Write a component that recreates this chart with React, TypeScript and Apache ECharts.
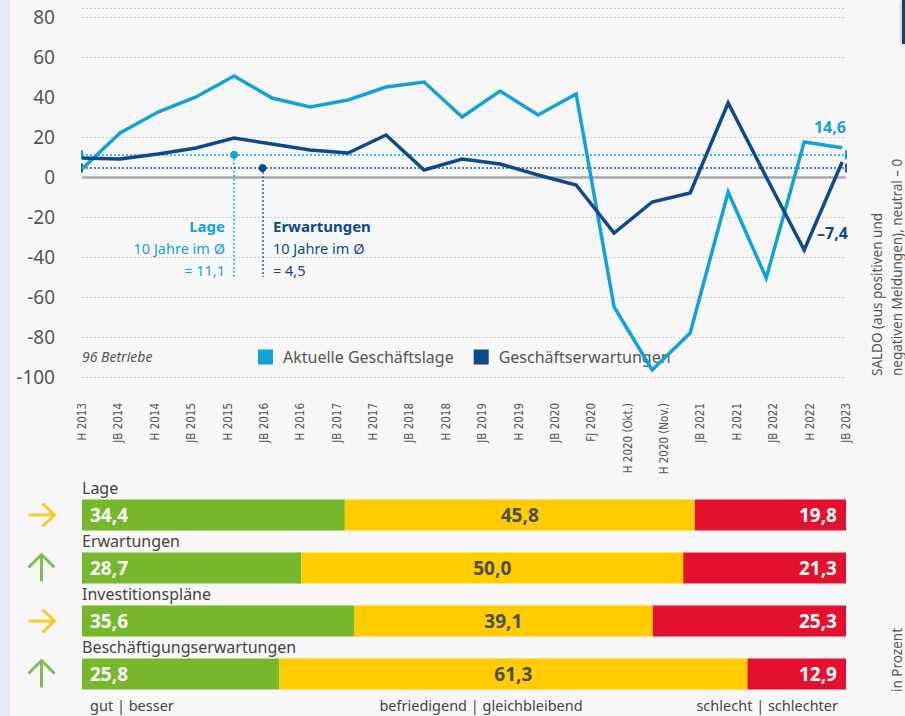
import React, { useEffect, useRef } from 'react';
import * as echarts from 'echarts';

// ---- data ----
const xLabels = ['H 2013', 'JB 2014', 'H 2014', 'JB 2015', 'H 2015', 'JB 2016', 'H 2016', 'JB 2017', 'H 2017', 'JB 2018', 'H 2018', 'JB 2019', 'H 2019', 'JB 2020', 'FJ 2020', 'H 2020 (Okt.)', 'H 2020 (Nov.)', 'JB 2021', 'H 2021', 'JB 2022', 'H 2022', 'JB 2023'];
const lageValues = [4, 22, 32.5, 40, 50.5, 39.5, 35, 38.5, 45, 47.5, 30, 43, 31, 41.5, -65, -96.5, -78, -7.5, -50.5, 17.5, 14.6];
const erwValues = [9.5, 9, 11.5, 14.5, 19.5, 16.5, 13.5, 12, 21, 3.5, 9, 6.5, 1, -4, -28, -12.5, -8, 37, 0, -36.5, 7.5];
const lageAvg = 11.1;
const erwAvg = 4.5;
const seriesNames = ['Aktuelle Geschäftslage', 'Geschäftserwartungen'];

const categories = ['Lage', 'Erwartungen', 'Investitionspläne', 'Beschäftigungserwartungen'];
const gutValues = [34.4, 28.7, 35.6, 25.8];
const mittelValues = [45.8, 50.0, 39.1, 61.3];
const schlechtValues = [19.8, 21.3, 25.3, 12.9];
const trendKinds = ['flat', 'up', 'flat', 'up'];
const footerLabels = ['gut | besser', 'befriedigend | gleichbleibend', 'schlecht | schlechter'];

const LIGHT = '#12a2da';
const DARK = '#0d4a8b';
const DARK_DOT = '#2e5a97';
const GREEN = '#77b72b';
const YELLOW = '#ffcc00';
const RED = '#e3102e';
const ARROW_FLAT = '#f7c200';
const ARROW_UP = '#62ab2c';
const F = "'Noto Sans', 'Open Sans', sans-serif";
const NARROW = "'Liberation Sans Narrow', 'DejaVu Sans Condensed', 'Noto Sans', sans-serif";

const fmt = (v: number) => v.toFixed(1).replace('.', ',');

const ARROW_RIGHT = 'path://M0,12 L26,12 M14,0 L26,12 L14,24';
const ARROW_UP_PATH = 'path://M13,27 L13,0 M0,13 L13,0 L26,13';

export default function App() {
  const ref = useRef<HTMLDivElement>(null);
  useEffect(() => {
    if (!ref.current) return;
    const chart = echarts.init(ref.current, undefined, { renderer: 'svg' });
    const dotted = (color: string) => ({ type: [2, 2], color, width: 1.5 });
    const endTicks = (avg: number, color: string) => [
      { coord: [0, avg], symbol: 'rect', symbolSize: [2, 9], itemStyle: { color } },
      { coord: [20.1, avg], symbol: 'rect', symbolSize: [2, 9], itemStyle: { color } },
    ];
    const splitColors = ['#c9c9c9', '#c9c9c9', '#c9c9c9', '#c9c9c9', '#c9c9c9', 'rgba(0,0,0,0)', '#c9c9c9', 'rgba(0,0,0,0)', '#c9c9c9', '#c9c9c9', '#c9c9c9'];
    const arrowX = -5.3; // left of the bars, on the bar grid's value scale
    const option: any = {
      animation: false,
      backgroundColor: '#f7f7f7',
      textStyle: { fontFamily: F },
      grid: [
        { left: 82, right: 59, top: 8, height: 369 },
        { left: 82, right: 59, top: 488.5, height: 212 },
      ],
      legend: {
        data: seriesNames,
        left: 258,
        top: 349,
        padding: 0,
        icon: 'rect',
        itemWidth: 15,
        itemHeight: 15,
        itemGap: 20,
        textStyle: { fontSize: 16, color: '#555', fontFamily: F, padding: [0, 0, 0, 5] },
      },
      xAxis: [
        {
          type: 'category', gridIndex: 0, data: xLabels, boundaryGap: false,
          axisLine: { show: false }, axisTick: { show: false }, splitLine: { show: false },
          axisLabel: { rotate: 90, margin: 26, fontSize: 11.5, color: '#555', fontFamily: NARROW, interval: 0 },
        },
        { type: 'value', gridIndex: 0, min: 0, max: 20.1, show: false },
        { type: 'value', gridIndex: 1, min: 0, max: 100, show: false },
      ],
      yAxis: [
        {
          type: 'value', gridIndex: 0, min: -100, max: 84.5, interval: 20,
          axisLine: { show: false }, axisTick: { show: false },
          axisLabel: { margin: 27, fontSize: 19, color: '#555', fontFamily: F, formatter: (v: number) => (v % 20 === 0 ? String(v) : '') },
          splitLine: { show: true, lineStyle: { type: [2, 2], color: splitColors, width: 1 } },
        },
        {
          type: 'category', gridIndex: 1, data: categories, inverse: true, position: 'left',
          axisLine: { show: false }, axisTick: { show: false },
          axisLabel: { inside: true, margin: 0, interval: 0, verticalAlign: 'bottom', padding: [0, 0, 19, 0], fontSize: 16, color: '#444', fontFamily: F },
        },
      ],
      series: [
        {
          name: seriesNames[0], type: 'line', xAxisIndex: 1, yAxisIndex: 0, color: LIGHT, z: 4,
          data: lageValues.map((v, i) => [i, v]), showSymbol: false,
          lineStyle: { width: 3.5, color: LIGHT, join: 'miter' },
          markLine: {
            z: 1, silent: true, symbol: 'none', label: { show: false },
            data: [
              { yAxis: 0, lineStyle: { type: 'solid', color: '#a8a8a8', width: 2.5 } },
              { yAxis: lageAvg, lineStyle: dotted(LIGHT) },
              [{ coord: [4, lageAvg], lineStyle: dotted(LIGHT) }, { coord: [4, -50] }],
            ],
          },
          markPoint: {
            z: 3, symbol: 'circle', symbolSize: 8, itemStyle: { color: LIGHT }, label: { show: false }, silent: true,
            data: [{ coord: [4, lageAvg] }, ...endTicks(lageAvg, LIGHT)],
          },
        },
        {
          name: seriesNames[1], type: 'line', xAxisIndex: 1, yAxisIndex: 0, color: DARK, z: 5,
          data: erwValues.map((v, i) => [i, v]), showSymbol: false,
          lineStyle: { width: 3.5, color: DARK, join: 'miter' },
          markLine: {
            z: 1, silent: true, symbol: 'none', label: { show: false },
            data: [
              { yAxis: erwAvg, lineStyle: dotted(DARK_DOT) },
              [{ coord: [4.75, erwAvg], lineStyle: dotted(DARK_DOT) }, { coord: [4.75, -50] }],
            ],
          },
          markPoint: {
            z: 3, symbol: 'circle', symbolSize: 8, itemStyle: { color: DARK }, label: { show: false }, silent: true,
            data: [{ coord: [4.75, erwAvg] }, ...endTicks(erwAvg, DARK_DOT)],
          },
        },
        {
          name: 'gut', type: 'bar', stack: 'a', xAxisIndex: 2, yAxisIndex: 1, barWidth: 31,
          data: gutValues, itemStyle: { color: GREEN },
          label: { show: true, position: 'insideLeft', distance: 8, color: '#fff', fontWeight: 'bold', fontSize: 19, fontFamily: F, formatter: (p: any) => fmt(p.value) },
        },
        {
          name: 'mittel', type: 'bar', stack: 'a', xAxisIndex: 2, yAxisIndex: 1, barWidth: 31,
          data: mittelValues, itemStyle: { color: YELLOW },
          label: { show: true, position: 'inside', color: '#4d4d4d', fontWeight: 'bold', fontSize: 19, fontFamily: F, formatter: (p: any) => fmt(p.value) },
        },
        {
          name: 'schlecht', type: 'bar', stack: 'a', xAxisIndex: 2, yAxisIndex: 1, barWidth: 31,
          data: schlechtValues, itemStyle: { color: RED },
          label: { show: true, position: 'insideRight', distance: 9, color: '#fff', fontWeight: 'bold', fontSize: 19, fontFamily: F, formatter: (p: any) => fmt(p.value) },
        },
        {
          name: 'trend', type: 'scatter', xAxisIndex: 2, yAxisIndex: 1, clip: false, silent: true,
          data: trendKinds.map((k, i) => ({
            value: [arrowX, i],
            symbol: k === 'up' ? ARROW_UP_PATH : ARROW_RIGHT,
            symbolSize: k === 'up' ? [26, 27] : [26, 23],
            itemStyle: { color: 'rgba(0,0,0,0)', borderColor: k === 'up' ? ARROW_UP : ARROW_FLAT, borderWidth: 3 },
          })),
        },
      ],
      graphic: [
        { type: 'rect', left: 0, top: 0, shape: { width: 10, height: 716 }, style: { fill: '#e3ebf4' }, silent: true },
        { type: 'rect', x: 902, y: 0, shape: { width: 3, height: 44 }, style: { fill: '#1b3c6b', shadowBlur: 4, shadowColor: 'rgba(0,0,0,0.4)' }, silent: true },
        // annotations
        { type: 'text', x: 225, y: 226, style: { text: 'Lage', fill: LIGHT, fontSize: 15, fontWeight: 'bold', fontFamily: F, align: 'right', verticalAlign: 'middle' } },
        { type: 'text', x: 225, y: 248, style: { text: '10 Jahre im Ø', fill: LIGHT, fontSize: 14.5, fontFamily: F, align: 'right', verticalAlign: 'middle' } },
        { type: 'text', x: 225, y: 270, style: { text: '= ' + fmt(lageAvg), fill: LIGHT, fontSize: 14.5, fontFamily: F, align: 'right', verticalAlign: 'middle' } },
        { type: 'text', x: 273, y: 226, style: { text: 'Erwartungen', fill: DARK, fontSize: 15, fontWeight: 'bold', fontFamily: F, align: 'left', verticalAlign: 'middle' } },
        { type: 'text', x: 273, y: 248, style: { text: '10 Jahre im Ø', fill: DARK, fontSize: 14.5, fontFamily: F, align: 'left', verticalAlign: 'middle' } },
        { type: 'text', x: 273, y: 270, style: { text: '= ' + fmt(erwAvg), fill: DARK, fontSize: 14.5, fontFamily: F, align: 'left', verticalAlign: 'middle' } },
        { type: 'text', x: 846, y: 127, style: { text: '14,6', fill: LIGHT, fontSize: 16, fontWeight: 'bold', fontFamily: F, align: 'right', verticalAlign: 'middle' } },
        { type: 'text', x: 817, y: 233, style: { text: '–7,4', fill: DARK, fontSize: 16, fontWeight: 'bold', fontFamily: F, align: 'left', verticalAlign: 'middle' } },
        { type: 'text', x: 82, y: 356, style: { text: '96 Betriebe', fill: '#555', fontSize: 14, fontStyle: 'italic', fontFamily: F, align: 'left', verticalAlign: 'middle' } },
        { type: 'text', x: 887, y: 376, rotation: Math.PI / 2, style: { text: 'SALDO (aus positiven und\nnegativen Meldungen), neutral – 0', fill: '#555', fontSize: 13.5, lineHeight: 20, fontFamily: F, align: 'left', verticalAlign: 'middle' } },
        { type: 'text', x: 897, y: 692, rotation: Math.PI / 2, style: { text: 'in Prozent', fill: '#555', fontSize: 13.5, fontFamily: F, align: 'left', verticalAlign: 'middle' } },
        { type: 'text', x: 90, y: 705, style: { text: footerLabels[0], fill: '#444', fontSize: 14.5, fontFamily: F, align: 'left', verticalAlign: 'middle' } },
        { type: 'text', x: 481, y: 705, style: { text: footerLabels[1], fill: '#444', fontSize: 14.5, fontFamily: F, align: 'center', verticalAlign: 'middle' } },
        { type: 'text', x: 838, y: 705, style: { text: footerLabels[2], fill: '#444', fontSize: 14.5, fontFamily: F, align: 'right', verticalAlign: 'middle' } },
      ],
    };
    chart.setOption(option);
    return () => chart.dispose();
  }, []);
  return <div ref={ref} style={{ position: 'fixed', left: 0, top: 0, width: 905, height: 716 }} />;
}
